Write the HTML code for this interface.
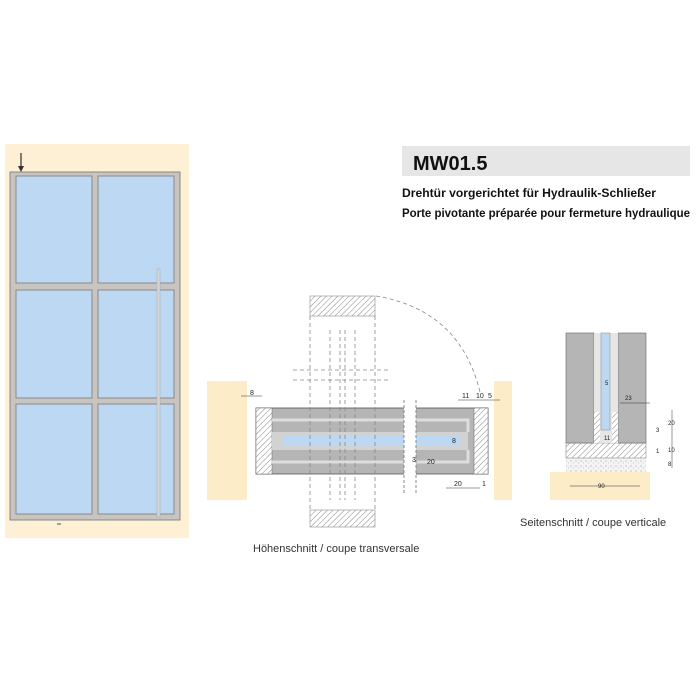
<!DOCTYPE html>
<html><head><meta charset="utf-8"><style>html,body{margin:0;padding:0;background:#fff}svg{display:block}</style></head><body>
<svg width="700" height="700" viewBox="0 0 700 700" xmlns="http://www.w3.org/2000/svg" font-family="Liberation Sans, sans-serif">
<defs>
<pattern id="h" width="4" height="4" patternUnits="userSpaceOnUse" patternTransform="rotate(45)"><rect width="4" height="4" fill="#fff"/><line x1="0" y1="0" x2="0" y2="4" stroke="#888" stroke-width="1"/></pattern>
<pattern id="d" width="5" height="5" patternUnits="userSpaceOnUse"><rect width="5" height="5" fill="#f4f4f4"/><circle cx="1" cy="1" r="0.6" fill="#aaa"/><circle cx="3.5" cy="3" r="0.5" fill="#bbb"/></pattern>
</defs>
<!-- door elevation -->
<rect x="5" y="144" width="184" height="394" fill="#fdf0d4"/>
<rect x="10" y="172" width="170" height="348" fill="#c8c4c0" stroke="#888" stroke-width="1"/>
<g fill="#bcd8f2" stroke="#8a8a8a" stroke-width="1">
<rect x="16" y="176" width="76" height="107"/><rect x="98" y="176" width="76" height="107"/>
<rect x="16" y="290" width="76" height="108"/><rect x="98" y="290" width="76" height="108"/>
<rect x="16" y="404" width="76" height="110"/><rect x="98" y="404" width="76" height="110"/>
</g>
<rect x="157" y="269" width="3" height="248" fill="#d6d6d6" stroke="#aaa" stroke-width="0.5"/>
<line x1="21" y1="153" x2="21" y2="170" stroke="#555" stroke-width="1.5"/>
<polygon points="18,166 24,166 21,172" fill="#333"/>
<line x1="57" y1="524" x2="61" y2="524" stroke="#555"/>
<!-- title -->
<rect x="402" y="146" width="288" height="30" fill="#e6e6e6"/>
<text x="413" y="170" font-size="20" font-weight="bold" fill="#111">MW01.5</text>
<text x="402" y="197" font-size="12" font-weight="bold" fill="#111" textLength="254" lengthAdjust="spacingAndGlyphs">Drehtür vorgerichtet für Hydraulik-Schließer</text>
<text x="402" y="217" font-size="12" font-weight="bold" fill="#111" textLength="288" lengthAdjust="spacingAndGlyphs">Porte pivotante préparée pour fermeture hydraulique</text>
<!-- horizontal section -->
<rect x="207" y="381" width="40" height="119" fill="#fdecc8"/>
<rect x="494" y="381" width="18" height="119" fill="#fdecc8"/>
<rect x="256" y="408" width="232" height="66" fill="#b5b5b5" stroke="#555" stroke-width="0.8"/>
<rect x="256" y="408" width="16" height="66" fill="url(#h)" stroke="#666" stroke-width="0.5"/>
<rect x="474" y="408" width="14" height="66" fill="url(#h)" stroke="#666" stroke-width="0.5"/>
<path d="M272,420 H468 V432 M272,462 H468 V450" fill="none" stroke="#ddd" stroke-width="3"/>
<rect x="272" y="432" width="196" height="18" fill="#d2d2d2"/>
<rect x="284" y="436" width="176" height="10" fill="#bcd8f2"/>
<rect x="404" y="400" width="12" height="95" fill="#fff"/>
<line x1="404" y1="400" x2="404" y2="495" stroke="#888" stroke-dasharray="3,2"/>
<line x1="416" y1="400" x2="416" y2="495" stroke="#888" stroke-dasharray="3,2"/>
<!-- vertical dashed column -->
<g stroke="#888" stroke-dasharray="4,3" fill="none" stroke-width="0.8">
<line x1="310" y1="316" x2="310" y2="510"/><line x1="375" y1="316" x2="375" y2="510"/>
<line x1="330" y1="330" x2="330" y2="500"/><line x1="355" y1="330" x2="355" y2="500"/>
<line x1="340" y1="330" x2="340" y2="500"/><line x1="345" y1="330" x2="345" y2="500"/>
<line x1="293" y1="370" x2="390" y2="370"/><line x1="293" y1="380" x2="390" y2="380"/>
<path d="M376,296 Q460,310 480,392"/>
</g>
<rect x="310" y="296" width="65" height="20" fill="url(#h)" stroke="#777" stroke-width="0.5"/>
<rect x="310" y="510" width="65" height="17" fill="url(#h)" stroke="#777" stroke-width="0.5"/>
<g font-size="7" fill="#222">
<text x="250" y="395">8</text><text x="462" y="398">11</text><text x="476" y="398">10</text><text x="488" y="398">5</text>
<text x="452" y="443">8</text><text x="412" y="462">3</text><text x="427" y="464">20</text>
<text x="454" y="486">20</text><text x="482" y="486">1</text>
</g>
<g stroke="#333" stroke-width="0.6"><line x1="241" y1="396" x2="262" y2="396"/><line x1="458" y1="400" x2="500" y2="400"/><line x1="446" y1="488" x2="480" y2="488"/></g>
<text x="253" y="552" font-size="11" fill="#333">Höhenschnitt / coupe transversale</text>
<!-- vertical section -->
<rect x="550" y="472" width="100" height="28" fill="#fdecc8"/>
<rect x="566" y="458" width="80" height="14" fill="url(#d)"/>
<rect x="566" y="443" width="80" height="15" fill="url(#h)" stroke="#777" stroke-width="0.5"/>
<rect x="566" y="333" width="28" height="110" fill="#b5b5b5" stroke="#666" stroke-width="0.6"/>
<rect x="618" y="333" width="28" height="110" fill="#b5b5b5" stroke="#666" stroke-width="0.6"/>
<rect x="594" y="333" width="24" height="110" fill="#e6e6e6"/>
<rect x="601" y="333" width="9" height="97" fill="#bcd8f2" stroke="#888" stroke-width="0.5"/>
<rect x="594" y="412" width="6" height="31" fill="url(#h)"/><rect x="612" y="412" width="6" height="31" fill="url(#h)"/>
<g font-size="6" fill="#222"><text x="605" y="385">5</text><text x="625" y="400">23</text><text x="604" y="440">11</text><text x="656" y="432">3</text><text x="668" y="425">20</text><text x="668" y="452">10</text><text x="656" y="453">1</text><text x="668" y="466">8</text><text x="598" y="488">90</text></g>
<g stroke="#333" stroke-width="0.5"><line x1="570" y1="486" x2="640" y2="486"/><line x1="672" y1="410" x2="672" y2="468"/><line x1="620" y1="403" x2="650" y2="403"/></g>
<text x="520" y="526" font-size="11" fill="#333">Seitenschnitt / coupe verticale</text>
</svg>
</body></html>
